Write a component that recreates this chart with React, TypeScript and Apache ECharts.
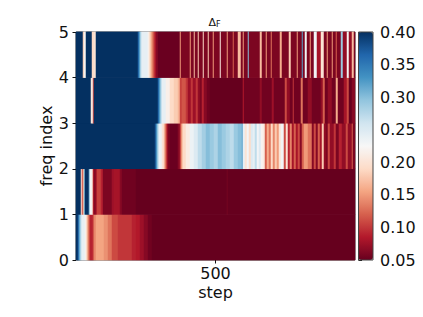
import React, { useEffect, useRef } from "react";
import * as echarts from "echarts";

// Each row: runs of [end column, value]; one column is about 3.58 steps.
const row0: number[][] = [[2,.4],[3,.37],[4,.32],[5,.29],[6,.26],[9,.24],[10,.22],[11,.2],[12,.17],[13,.14],[14,.115],[17,.09],[18,.11],[20,.14],[28,.155],[32,.145],[36,.13],[42,.11],[50,.1],[56,.1],[60,.09],[64,.085],[68,.075],[72,.065],[76,.055],[279,.05]];
const row1: number[][] = [[5,.4],[6,.2],[7,.11],[8,.17],[9,.3],[13,.4],[14,.3],[16,.23],[17,.2],[18,.09],[20,.065],[21,.08],[25,.105],[27,.09],[36,.06],[38,.075],[44,.08],[46,.065],[60,.054],[151,.05],[152,.056],[279,.05]];
const row2: number[][] = [[79,.4],[80,.38],[81,.34],[82,.3],[83,.27],[86,.235],[88,.2],[89,.17],[90,.14],[91,.11],[92,.08],[94,.06],[102,.052],[104,.065],[105,.1],[106,.14],[107,.17],[110,.19],[114,.21],[118,.235],[122,.25],[126,.27],[130,.285],[134,.3],[138,.29],[142,.28],[146,.3],[150,.29],[154,.28],[158,.27],[162,.29],[166,.3],[167,.32],[169,.24],[171,.2],[173,.23],[175,.19],[177,.25],[179,.24],[181,.27],[183,.23],[185,.25],[187,.22],[189,.21],[191,.12],[193,.16],[195,.13],[197,.19],[199,.14],[201,.18],[203,.15],[205,.2],[208,.23],[210,.11],[212,.2],[214,.09],[216,.14],[218,.08],[220,.12],[222,.08],[224,.11],[226,.065],[228,.12],[232,.15],[236,.13],[238,.065],[240,.11],[242,.065],[244,.12],[246,.08],[248,.18],[250,.07],[252,.06],[254,.11],[258,.07],[260,.1],[263,.06],[266,.09],[270,.07],[272,.11],[276,.07],[277,.12],[279,.06]];
const row3: number[][] = [[15,.4],[16,.2],[17,.22],[18,.11],[82,.4],[83,.37],[84,.33],[85,.3],[86,.27],[90,.24],[94,.215],[98,.19],[102,.18],[104,.165],[106,.105],[110,.115],[112,.1],[115,.075],[117,.1],[120,.075],[122,.1],[124,.07],[126,.06],[128,.09],[131,.065],[134,.055],[138,.05],[167,.05],[168,.085],[184,.055],[186,.07],[196,.055],[198,.075],[209,.055],[211,.11],[214,.07],[217,.055],[218,.1],[225,.055],[227,.13],[232,.055],[236,.07],[245,.055],[247,.07],[249,.12],[252,.055],[256,.07],[260,.055],[262,.16],[268,.055],[271,.08],[273,.11],[276,.05],[279,.065]];
const row4: number[][] = [[7,.4],[8,.18],[10,.22],[16,.4],[18,.19],[20,.2],[62,.4],[63,.37],[64,.33],[65,.29],[66,.26],[72,.24],[73,.22],[74,.2],[75,.18],[76,.16],[77,.14],[78,.12],[79,.1],[80,.085],[82,.065],[104,.052],[105,.15],[114,.06],[115,.15],[118,.06],[119,.17],[122,.06],[123,.18],[127,.06],[128,.19],[132,.06],[133,.18],[137,.06],[138,.15],[144,.06],[145,.21],[151,.06],[152,.15],[157,.06],[158,.12],[162,.06],[165,.17],[167,.06],[168,.15],[172,.06],[173,.3],[184,.06],[186,.17],[190,.06],[191,.15],[195,.06],[196,.13],[204,.06],[206,.16],[213,.06],[215,.18],[221,.06],[222,.15],[226,.06],[227,.32],[229,.06],[231,.23],[234,.06],[235,.15],[238,.06],[241,.23],[245,.08],[248,.2],[251,.06],[252,.15],[256,.06],[257,.15],[260,.06],[261,.12],[265,.06],[267,.29],[271,.07],[273,.22],[276,.07],[278,.17],[279,.06]];
const rows = [row0, row1, row2, row3, row4];
const colours = ["#67001f","#b2182b","#d6604d","#f4a582","#fddbc7","#f7f7f7","#d1e5f0","#92c5de","#4393c3","#2166ac","#053061"];
const yTicks = [0, 1, 2, 3, 4, 5];
const xTicks = [500];
const columnCount = 279;

const cells: number[][] = [];
rows.forEach((runs, r) => {
  let start = 0;
  runs.forEach(([end, v]) => {
    for (let c = start; c < end; c++) cells.push([c, r, v]);
    start = end;
  });
});
const columns = Array.from({ length: columnCount }, (_, i) => String(i));
const font = "DejaVu Sans";
const ink = "#111";
const size = 16;

export default function App() {
  const ref = useRef<HTMLDivElement>(null);
  useEffect(() => {
    const chart = echarts.init(ref.current!, undefined, { renderer: "svg" });
    chart.setOption({
      animation: false,
      backgroundColor: "#fff",
      title: {
        text: "{a|Δ}{b|F}",
        left: 214.5,
        top: 16,
        textAlign: "center",
        padding: 0,
        textStyle: {
          fontWeight: "normal",
          rich: {
            a: { fontFamily: font, fontWeight: "normal", fontSize: 11, color: ink },
            b: { fontFamily: font, fontWeight: "normal", fontSize: 8, color: ink, verticalAlign: "bottom", padding: [4, 0, 0, 0] },
          },
        },
      },
      grid: [
        { left: 76, top: 32, width: 279, height: 228, show: true, borderColor: "#444", borderWidth: 1, backgroundColor: "transparent" },
        { left: 358.5, top: 32, width: 14.5, height: 228, show: true, borderColor: "#444", borderWidth: 1, backgroundColor: "transparent", z: 5 },
      ],
      xAxis: [
        { type: "category", data: columns, gridIndex: 0, show: false },
        {
          type: "value", gridIndex: 0, min: 0, max: 1000, position: "bottom",
          name: "step", nameLocation: "middle", nameGap: 24, nameMoveOverlap: false,
          nameTextStyle: { fontFamily: font, fontSize: size, color: ink },
          axisLine: { show: false }, splitLine: { show: false },
          axisTick: { show: true, length: 3.5, customValues: xTicks, lineStyle: { color: ink } },
          axisLabel: { show: true, customValues: xTicks, margin: 5, fontFamily: font, fontSize: size, color: ink, formatter: (v: number) => String(v) },
        },
        { type: "value", gridIndex: 1, show: false, min: 0, max: 1 },
      ],
      yAxis: [
        { type: "category", data: rows.map((_, i) => String(i)), gridIndex: 0, show: false },
        {
          type: "value", gridIndex: 0, min: 0, max: 5, interval: 1, position: "left",
          name: "freq index", nameLocation: "middle", nameGap: 22, nameRotate: 90, nameMoveOverlap: false,
          nameTextStyle: { fontFamily: font, fontSize: size, color: ink },
          axisLine: { show: false }, splitLine: { show: false },
          axisTick: { show: true, length: 3.5, lineStyle: { color: ink } },
          axisLabel: { show: true, margin: 7, fontFamily: font, fontSize: size, color: ink, formatter: (v: number) => (yTicks.includes(v) ? String(v) : "") },
        },
        {
          type: "value", gridIndex: 1, min: 0.05, max: 0.4, interval: 0.05, position: "right",
          axisLine: { show: false }, splitLine: { show: false },
          axisTick: { show: true, length: 3.5, lineStyle: { color: ink } },
          axisLabel: { show: true, margin: 7, fontFamily: font, fontSize: size, color: ink, formatter: (v: number) => v.toFixed(2) },
        },
      ],
      visualMap: {
        type: "continuous", min: 0.05, max: 0.4, show: true, calculable: false, seriesIndex: 0,
        left: 358.5, top: 32, padding: 0, itemWidth: 14.5, itemHeight: 228, text: ["", ""], textGap: 0,
        showLabel: false, inRange: { color: colours }, hoverLink: false,
      },
      series: [
        { type: "heatmap", xAxisIndex: 0, yAxisIndex: 0, data: cells, progressive: 0, emphasis: { disabled: true } },
      ],
    });
    return () => chart.dispose();
  }, []);
  return <div ref={ref} style={{ position: "fixed", left: 0, top: 0, width: 423, height: 317 }} />;
}
